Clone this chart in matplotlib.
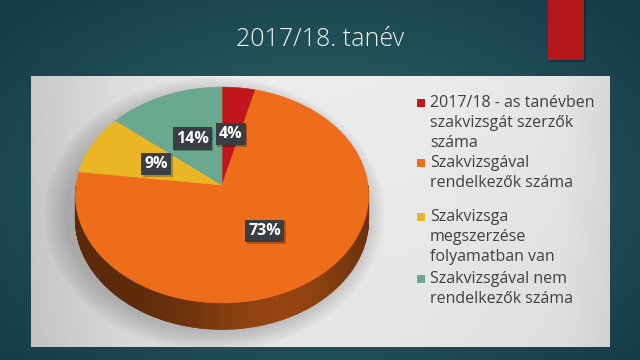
import numpy as np
import matplotlib.pyplot as plt
from matplotlib.patches import Polygon, Rectangle, Ellipse
from matplotlib.collections import PolyCollection
from matplotlib.colors import to_rgb

# data
title = "2017/18. tanév"
labels = ["2017/18 - as tanévben\nszakvizsgát szerzők\nszáma",
          "Szakvizsgával\nrendelkezők száma",
          "Szakvizsga\nmegszerzése\nfolyamatban van",
          "Szakvizsgával nem\nrendelkezők száma"]
values = [4, 73, 9, 14]
colors = ["#c0161c", "#ee6d1a", "#ebb626", "#6aa98f"]

FONT = ["Open Sans", "DejaVu Sans"]

fig = plt.figure(figsize=(6.4, 3.6), dpi=100)
ax = fig.add_axes([0, 0, 1, 1])
ax.set_xlim(0, 640)
ax.set_ylim(360, 0)
ax.axis('off')

# slide background, radial teal gradient
yy, xx = np.mgrid[0:360, 0:640]
r = np.sqrt(((xx - 320) / 420.0) ** 2 + ((yy - 190) / 260.0) ** 2)
r = np.clip(r, 0, 1)[..., None]
light = np.array(to_rgb("#2f6a67"))
dark = np.array(to_rgb("#163b4b"))
bg = light * (1 - r) + dark * r
ax.imshow(bg, extent=(0, 640, 360, 0), aspect='auto', zorder=0)

# red accent bar
ax.add_patch(Rectangle((550, 0), 36, 62, fc="black", alpha=0.25, zorder=1))
ax.add_patch(Rectangle((548, 0), 36, 60, fc="#b3161b", zorder=2))

# light gray chart panel
px0, px1, py0, py1 = 31, 610, 76, 347
gx = np.linspace(px0, px1, 300)
prof = np.interp(gx, [31, 110, 230, 420, 560, 610], [0.79, 0.86, 0.93, 0.925, 0.90, 0.85])
gy = np.linspace(py0, py1, 100)
vprof = np.interp(gy, [76, 200, 347], [1.0, 0.99, 0.97])
panel = (vprof[:, None] * prof[None, :])[..., None] * np.ones(3)
ax.imshow(panel, extent=(px0, px1, py1, py0), aspect='auto', zorder=1)
ax.set_xlim(0, 640)
ax.set_ylim(360, 0)

# 3d pie geometry
cx, cy, R, Ry, k, depth = 222, 185, 146, 107, 0.0927, 24


def proj(u, v, dz=0.0):
    w = 1.0 / (1.0 + k * v)
    return cx + R * u * w, cy - Ry * v * w + dz * w


# soft shadow
for i in range(12):
    ax.add_patch(Ellipse((214, 214), 296 + 4 * i, 236 + 3.5 * i,
                         fc="#707070", alpha=0.035, ec="none", zorder=3))

total = float(sum(values))
edges = 90 - 360 * np.concatenate([[0], np.cumsum(values)]) / total

# side wall
quads, qcols = [], []
for i in range(len(values)):
    th = np.radians(np.linspace(edges[i], edges[i + 1], 240))
    base = np.array(to_rgb(colors[i]))
    for a, b in zip(th[:-1], th[1:]):
        if np.sin(a) > 0.001 or np.sin(b) > 0.001:
            continue
        p1 = proj(np.cos(a), np.sin(a))
        p2 = proj(np.cos(b), np.sin(b))
        p3 = proj(np.cos(b), np.sin(b), depth)
        p4 = proj(np.cos(a), np.sin(a), depth)
        quads.append([p1, p2, p3, p4])
        t = (np.cos((a + b) / 2) + 1) / 2
        f = 0.38 + 0.25 * np.exp(-((t - 0.68) / 0.28) ** 2)
        qcols.append(base * f)
ax.add_collection(PolyCollection(quads, facecolors=qcols, edgecolors=qcols,
                                 linewidths=0.6, zorder=4))

# top faces
for i in range(len(values)):
    th = np.radians(np.linspace(edges[i], edges[i + 1], 200))
    pts = [proj(0, 0)] + [proj(np.cos(t), np.sin(t)) for t in th]
    ax.add_patch(Polygon(pts, closed=True, fc=colors[i], ec=colors[i],
                         lw=0.4, zorder=5))

# data labels
for i, v in enumerate(values):
    mid = np.radians((edges[i] + edges[i + 1]) / 2)
    x, y = proj(0.5 * np.cos(mid), 0.5 * np.sin(mid))
    txt = f"{v / total * 100:.0f}%"
    # small drop shadow behind the label box
    ax.text(x + 1.5, y + 1.5, txt, ha='center', va='center',
            color='none', fontsize=11.5, fontweight='bold', family=FONT,
            bbox=dict(boxstyle='square,pad=0.2', fc='black', ec='none',
                      alpha=0.25), zorder=6)
    ax.text(x, y, txt, ha='center', va='center',
            color='white', fontsize=11.5, fontweight='bold', family=FONT,
            bbox=dict(boxstyle='square,pad=0.2', fc='#3a3d42', ec='none'),
            zorder=7)

# legend
legend_y = [103, 163, 217, 279]
for i, lab in enumerate(labels):
    ax.add_patch(Rectangle((417, legend_y[i] - 4), 8, 8, fc=colors[i],
                           ec='none', zorder=6))
    for j, line in enumerate(lab.split("\n")):
        ax.text(430, legend_y[i] + 20 * j, line, ha='left', va='center',
                fontsize=11.5, color='#404040', family=FONT, zorder=6)

# title
ax.text(320, 39, title, ha='center', va='center', fontsize=18,
        color='#f2f2f2', family=FONT, fontweight='light', zorder=6)

plt.savefig("out.png", dpi=100)
